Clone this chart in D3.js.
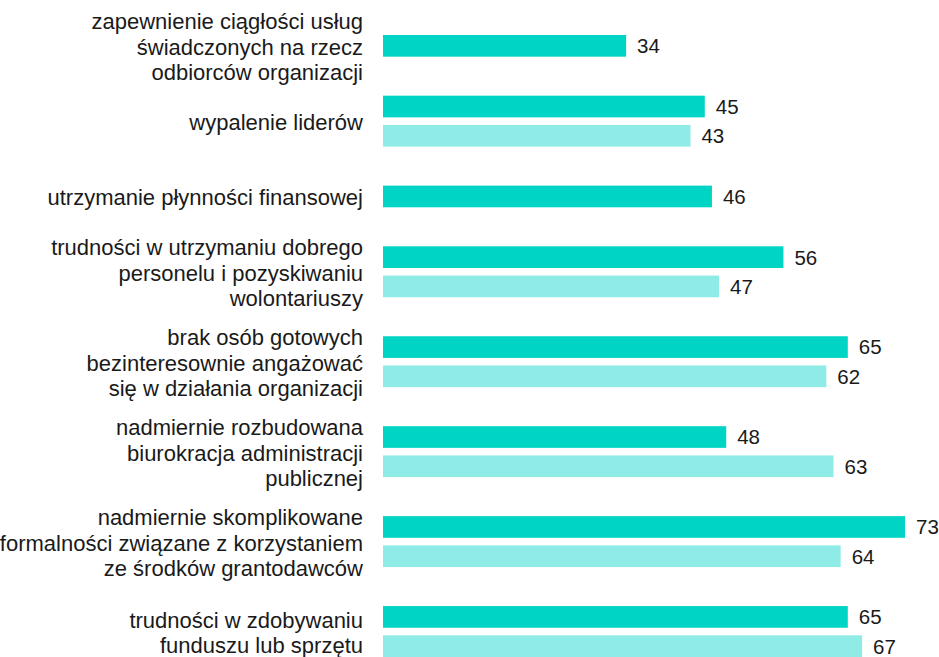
<!DOCTYPE html>
<html>
<head>
<meta charset="utf-8">
<script src="https://cdn.jsdelivr.net/npm/d3@7"></script>
<style>
  html, body { margin: 0; padding: 0; background: #fff; }
  svg { display: block; font-family: "Liberation Sans", Arial, sans-serif; }
</style>
</head>
<body>
<svg id="chart" width="939" height="657"></svg>
<script>
// labels, already broken into lines as in the original
const categories = [
  ["zapewnienie ciągłości usług", "świadczonych na rzecz", "odbiorców organizacji"],
  ["wypalenie liderów"],
  ["utrzymanie płynności finansowej"],
  ["trudności w utrzymaniu dobrego", "personelu i pozyskiwaniu", "wolontariuszy"],
  ["brak osób gotowych", "bezinteresownie angażować", "się w działania organizacji"],
  ["nadmiernie rozbudowana", "biurokracja administracji", "publicznej"],
  ["nadmiernie skomplikowane", "formalności związane z korzystaniem", "ze środków grantodawców"],
  ["trudności w zdobywaniu", "funduszu lub sprzętu"]
];
const seriesA = [34, 45, 46, 56, 65, 48, 73, 65];
const seriesB = [null, 43, null, 47, 62, 63, 64, 67];
const colors = ["#00d4c4", "#8eebe6"];

const svg = d3.select('#chart');
const width = +svg.attr('width');
const height = +svg.attr('height');

const barH = 20, barGap = 7, groupGap = 36;

// stack the bars: missing values take no room
const rows = [];
let pos = 0;
const groups = categories.map((lines, i) => {
  const vals = [seriesA[i], seriesB[i]];
  const start = pos;
  vals.forEach((v, s) => {
    if (v == null) return;
    rows.push({group: i, series: s, value: v, u: pos});
    pos += barH + barGap;
  });
  const end = pos - barGap;
  pos = end + groupGap;
  return {lines, start, end};
});
const total = pos - groupGap;

const y = d3.scaleLinear().domain([0, total]).range([35, height]);
const x = d3.scaleLinear().domain([0, 73]).range([383, 905]);

svg.append('g')
  .selectAll('rect')
  .data(rows)
  .enter().append('rect')
  .attr('x', x(0))
  .attr('y', d => y(d.u))
  .attr('width', d => x(d.value) - x(0))
  .attr('height', d => y(d.u + barH) - y(d.u))
  .attr('fill', d => colors[d.series]);

svg.append('g')
  .selectAll('text')
  .data(rows)
  .enter().append('text')
  .attr('x', d => x(d.value) + 11)
  .attr('y', d => y(d.u + barH / 2))
  .attr('dy', '0.36em')
  .attr('fill', '#1a1a1a')
  .style('font-size', '20.5px')
  .text(d => d.value);

const lineH = 25.5;
const labels = svg.append('g')
  .selectAll('text')
  .data(groups)
  .enter().append('text')
  .attr('text-anchor', 'end')
  .attr('fill', '#1a1a1a')
  .style('font-size', '22px')
  .attr('transform', d => `translate(363,${(y(d.start) + y(d.end)) / 2 + 1})`);

labels.selectAll('tspan')
  .data(d => d.lines.map((t, k) => ({t, k, n: d.lines.length})))
  .enter().append('tspan')
  .attr('x', 0)
  .attr('y', d => (d.k - (d.n - 1) / 2) * lineH)
  .attr('dy', '0.36em')
  .text(d => d.t);
</script>
</body>
</html>
